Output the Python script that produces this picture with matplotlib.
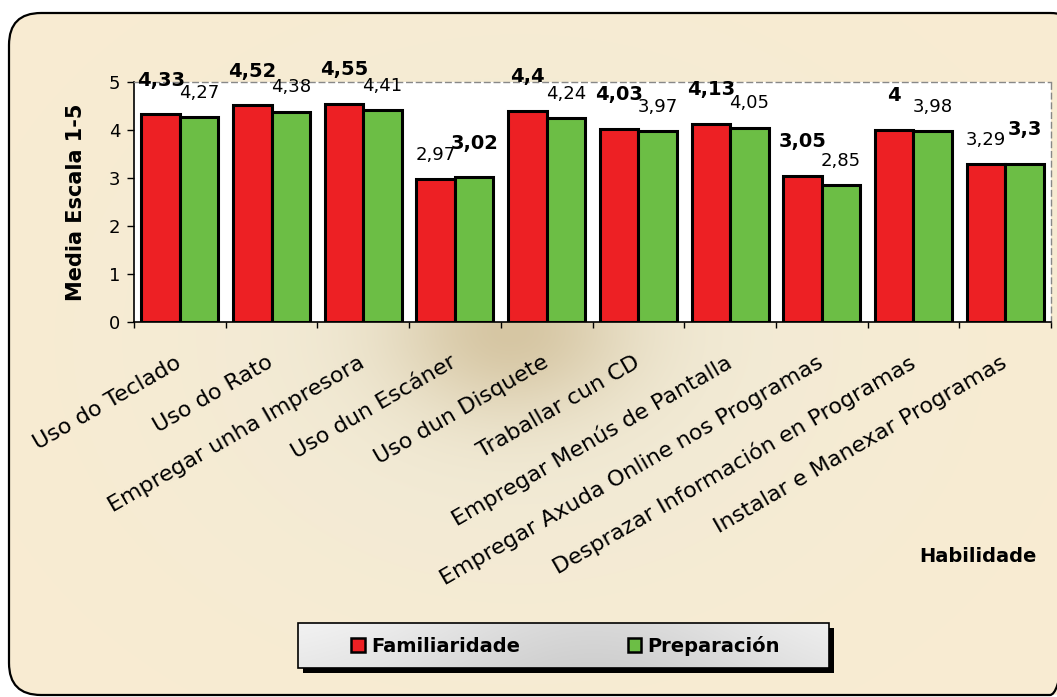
import numpy as np
import matplotlib
matplotlib.use("Agg")
import matplotlib.pyplot as plt
from matplotlib.patches import FancyBboxPatch, Rectangle, Patch

categories = ["Uso do Teclado", "Uso do Rato", "Empregar unha Impresora", "Uso dun Escáner",
              "Uso dun Disquete", "Traballar cun CD", "Empregar Menús de Pantalla",
              "Empregar Axuda Online nos Programas", "Desprazar Información en Programas",
              "Instalar e Manexar Programas"]
familiaridade = [4.33, 4.52, 4.55, 2.97, 4.40, 4.03, 4.13, 3.05, 4.00, 3.29]
preparacion = [4.27, 4.38, 4.41, 3.02, 4.24, 3.97, 4.05, 2.85, 3.98, 3.30]
series_names = ["Familiaridade", "Preparación"]
yticks = [0, 1, 2, 3, 4, 5]

RED = "#ED2024"
GREEN = "#6CBE45"
W, H = 1057, 697
plt.rcParams['font.family'] = ['DejaVu Sans']

fig = plt.figure(figsize=(W / 100, H / 100), dpi=100)
fig.patch.set_facecolor("white")

# ---- background (pixel coordinates) ----
bg = fig.add_axes([0, 0, 1, 1], zorder=-1)
bg.set_xlim(0, W)
bg.set_ylim(H, 0)
bg.axis("off")

yy, xx = np.mgrid[0:H, 0:W]
base = np.array([249, 236, 210]) / 255
ring = np.array([240, 234, 214]) / 255
dark = np.array([214, 198, 163]) / 255
r2 = np.sqrt(((xx - 520) / 1.0) ** 2 + ((yy - 340) * 1.3) ** 2)
t2 = np.exp(-(r2 / 380) ** 2)[..., None]
r1 = np.sqrt(((xx - 510) / 1.4) ** 2 + (yy - 330) ** 2)
t1 = np.exp(-(r1 / 85) ** 2)[..., None]
img = base * (1 - t2) + ring * t2
img = img * (1 - t1) + dark * t1
im = bg.imshow(img, extent=(0, W, H, 0), origin="upper", zorder=0, interpolation="bilinear")
frame = FancyBboxPatch((9, 13), 1082 - 9, 695 - 13, boxstyle="round,pad=0,rounding_size=32",
                       facecolor="none", edgecolor="black", linewidth=1.6, zorder=2)
bg.add_patch(frame)
im.set_clip_path(frame)

# legend box with shadow and gradient
lx0, ly0, lx1, ly1 = 298, 623, 829, 668
bg.add_patch(Rectangle((lx0 + 5, ly0 + 5), lx1 - lx0, ly1 - ly0, facecolor="black", edgecolor="none", zorder=3))
gy, gx = np.mgrid[0:50, 0:540]
gval = 0.96 - 0.11 * np.exp(-((gx - 300) / 200.0) ** 2) - 0.04 * gy / 50
gimg = np.dstack([gval, gval, gval])
lim = bg.imshow(gimg, extent=(lx0, lx1, ly1, ly0), zorder=4, interpolation="bilinear")
lrect = Rectangle((lx0, ly0), lx1 - lx0, ly1 - ly0, facecolor="none", edgecolor="black", linewidth=1.2, zorder=5)
bg.add_patch(lrect)
lim.set_clip_path(lrect)
bg.set_xlim(0, W)
bg.set_ylim(H, 0)

# ---- main axes ----
ax = fig.add_axes([134 / W, 1 - 322 / H, (1051 - 134) / W, (322 - 82) / H])
ax.set_facecolor("white")
x = np.arange(len(categories))
bw = 0.42
b1 = ax.bar(x - bw / 2, familiaridade, bw, color=RED, edgecolor="black", linewidth=2.2, zorder=3)
b2 = ax.bar(x + bw / 2, preparacion, bw, color=GREEN, edgecolor="black", linewidth=2.2, zorder=3)

ax.set_xlim(-0.5, len(categories) - 0.5)
ax.set_ylim(0, 5)
ax.set_yticks(yticks)
ax.set_yticklabels([str(v) for v in yticks], fontsize=13)
ax.tick_params(axis="y", direction="out", length=5, width=1, pad=5)

ax.set_xticks(np.arange(-0.5, len(categories), 1))
ax.set_xticklabels([])
ax.tick_params(axis="x", which="major", direction="out", length=4, width=1)
ax.set_xticks(x, minor=True)
ax.set_xticklabels(categories, minor=True, fontsize=16)
ax.tick_params(axis="x", which="minor", length=0, pad=28)
for lab in ax.get_xticklabels(minor=True):
    lab.set_rotation(30)
    lab.set_ha("right")
    lab.set_va("center")
    lab.set_rotation_mode("anchor")

for s in ["left", "bottom"]:
    ax.spines[s].set_color("black")
    ax.spines[s].set_linewidth(1.2)
for s in ["top", "right"]:
    ax.spines[s].set_color("#888888")
    ax.spines[s].set_linestyle((0, (4, 3)))
    ax.spines[s].set_linewidth(1.0)

ax.set_ylabel("Media Escala 1-5", fontsize=15, fontweight="bold", labelpad=16)


def fmt(v):
    return f"{v:g}".replace(".", ",")


for i in range(len(categories)):
    a, b = familiaridade[i], preparacion[i]
    for xc, v, other in [(x[i] - bw / 2, a, b), (x[i] + bw / 2, b, a)]:
        bold = v > other
        ax.annotate(fmt(v), (xc, v), xytext=(0, 24.5 if bold else 17.5), textcoords="offset points",
                    ha="center", va="center", fontsize=14 if bold else 13,
                    fontweight="bold" if bold else "normal", annotation_clip=False, zorder=5)

fig.text(1037 / W, 1 - 557 / H, "Habilidade", fontsize=14, fontweight="bold", ha="right", va="center")

handles = [Patch(facecolor=RED, edgecolor="black", linewidth=1.8),
           Patch(facecolor=GREEN, edgecolor="black", linewidth=1.8)]
fig.legend(handles, series_names, loc="center", bbox_to_anchor=((lx0 + lx1 + 4) / 2 / W, 1 - (ly0 + ly1) / 2 / H),
           ncol=2, frameon=False, columnspacing=5.55, handlelength=0.7, handleheight=0.7,
           handletextpad=0.3, prop={"size": 14, "weight": "bold"})

fig.savefig("out.png", dpi=100, facecolor="white")
